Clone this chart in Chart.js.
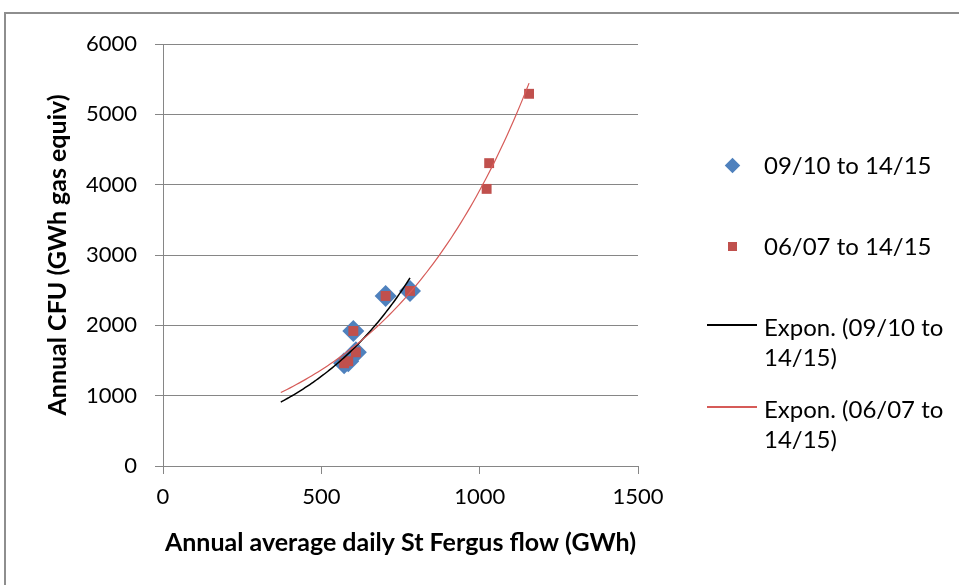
<!DOCTYPE html>
<html><head><meta charset="utf-8">
<script src="https://cdn.jsdelivr.net/npm/chart.js@4/dist/chart.umd.min.js"></script>
<style>
html,body{margin:0;padding:0;background:#fff;}
#wrap{position:relative;width:959px;height:585px;overflow:hidden;background:#fff;}
#frame{position:absolute;left:4px;top:12px;width:1000px;height:700px;border:2px solid #8e8e8e;box-sizing:border-box;}
#c{position:absolute;left:0;top:0;}
.lg{position:absolute;font-family:Lato,sans-serif;font-size:24px;line-height:30px;color:#000;}
.mk{position:absolute;}
</style>
</head><body>
<div id="wrap">
  <div id="frame"></div>
  <canvas id="c" width="959" height="585"></canvas>
  <div id="legend"></div>
</div>
<script>
// ---- data ----
const seriesNames = ['09/10 to 14/15', '06/07 to 14/15'];
const trendNames = ['Expon. (09/10 to 14/15)', 'Expon. (06/07 to 14/15)'];
const flow0910 = [572, 585, 601, 609, 703, 780];
const cfu0910  = [1461, 1490, 1920, 1617, 2418, 2489];
const flow0607 = [1022, 1030, 1156, 572, 585, 601, 609, 703, 780];
const cfu0607  = [3940, 4306, 5292, 1461, 1490, 1920, 1617, 2418, 2489];
const xTicks = [0, 500, 1000, 1500];
const yTicks = [0, 1000, 2000, 3000, 4000, 5000, 6000];
const xTitle = 'Annual average daily St Fergus flow (GWh)';
const yTitle = 'Annual CFU (GWh gas equiv)';
const trendBackward = 200; // Excel trendline backward forecast

// exponential (log-linear least squares) trendline from the data
function expTrend(xs, ys, back) {
  const n = xs.length;
  const ly = ys.map(Math.log);
  const mx = xs.reduce((a, b) => a + b, 0) / n;
  const my = ly.reduce((a, b) => a + b, 0) / n;
  let sxy = 0, sxx = 0;
  for (let i = 0; i < n; i++) { sxy += (xs[i] - mx) * (ly[i] - my); sxx += (xs[i] - mx) ** 2; }
  const b = sxy / sxx, a = Math.exp(my - b * mx);
  const x0 = Math.min(...xs) - back, x1 = Math.max(...xs);
  const pts = [];
  const steps = 80;
  for (let i = 0; i <= steps; i++) {
    const x = x0 + (x1 - x0) * i / steps;
    pts.push({x: x, y: a * Math.exp(b * x)});
  }
  return pts;
}

const blue = '#4F81BD', red = '#C0504D', redLine = '#D65B58';

const datasets = [
  {label: seriesNames[0], data: flow0910.map((x, i) => ({x, y: cfu0910[i]})),
   pointStyle: 'rectRot', pointRadius: 11, backgroundColor: blue, borderWidth: 0, order: 4, showLine: false},
  {label: seriesNames[1], data: flow0607.map((x, i) => ({x, y: cfu0607[i]})),
   pointStyle: 'rect', pointRadius: 7, backgroundColor: red, borderWidth: 0, order: 3, showLine: false},
  {label: trendNames[0], data: expTrend(flow0910, cfu0910, trendBackward),
   showLine: true, pointRadius: 0, borderColor: '#000', borderWidth: 1.5, order: 2, fill: false},
  {label: trendNames[1], data: expTrend(flow0607, cfu0607, trendBackward),
   showLine: true, pointRadius: 0, borderColor: redLine, borderWidth: 1.2, order: 1, fill: false}
];

function build() {
  const chart = new Chart(document.getElementById('c'), {
    type: 'scatter',
    data: {datasets},
    options: {
      responsive: false, animation: false,
      layout: {padding: {left: 0, top: 44, right: 321, bottom: 0}},
      plugins: {legend: {display: false}, tooltip: {enabled: false}},
      scales: {
        x: {
          type: 'linear', min: xTicks[0], max: xTicks[xTicks.length - 1],
          afterBuildTicks: s => { s.ticks = xTicks.map(v => ({value: v})); },
          grid: {drawOnChartArea: false, drawTicks: true, tickLength: 8, color: '#868686'},
          border: {color: '#868686', width: 1},
          ticks: {font: {family: 'Lato', size: 22}, color: '#000', padding: 10, maxRotation: 0,
                  callback: v => String(v)},
          title: {display: true, text: xTitle, color: '#000',
                  font: {family: 'Lato', size: 25, weight: 'bold'}, padding: {top: 0, bottom: 27}},
          afterFit: s => { s.height = 119; }
        },
        y: {
          type: 'linear', min: yTicks[0], max: yTicks[yTicks.length - 1],
          afterBuildTicks: s => { s.ticks = yTicks.map(v => ({value: v})); },
          grid: {color: '#868686', tickLength: 8},
          border: {color: '#868686', width: 1},
          ticks: {font: {family: 'Lato', size: 22}, color: '#000', padding: 18,
                  callback: v => String(v)},
          title: {display: true, text: yTitle, color: '#000',
                  font: {family: 'Lato', size: 25, weight: 'bold'}, padding: {top: 43, bottom: 0}},
          afterFit: s => { s.width = 163; }
        }
      }
    }
  });

  // HTML legend built from the chart's datasets
  const lg = document.getElementById('legend');
  const layout = [
    {mk: 'diamond', cy: 165, top: 150},
    {mk: 'square', cy: 246, top: 231},
    {mk: 'line', cy: 325, top: 312},
    {mk: 'line', cy: 407, top: 394}
  ];
  chart.data.datasets.forEach((ds, i) => {
    const L = layout[i];
    const m = document.createElement('div');
    m.className = 'mk';
    if (L.mk === 'diamond') {
      Object.assign(m.style, {left: (732 - 5.5) + 'px', top: (L.cy - 5.5) + 'px', width: '11px', height: '11px',
        background: ds.backgroundColor, transform: 'rotate(45deg)'});
    } else if (L.mk === 'square') {
      Object.assign(m.style, {left: (732 - 4.5) + 'px', top: (L.cy - 4.5) + 'px', width: '9px', height: '9px',
        background: ds.backgroundColor});
    } else {
      Object.assign(m.style, {left: '707px', top: (L.cy - ds.borderWidth / 2) + 'px', width: '50px',
        height: ds.borderWidth + 'px', background: ds.borderColor});
    }
    lg.appendChild(m);
    const t = document.createElement('div');
    t.className = 'lg';
    t.style.left = '764px';
    t.style.top = L.top + 'px';
    t.style.width = '192px';
    t.textContent = ds.label;
    lg.appendChild(t);
  });
}

if (document.fonts && document.fonts.load) {
  Promise.all([document.fonts.load('22px Lato'), document.fonts.load('bold 25px Lato')]).then(build, build);
} else build();
</script>
</body></html>
